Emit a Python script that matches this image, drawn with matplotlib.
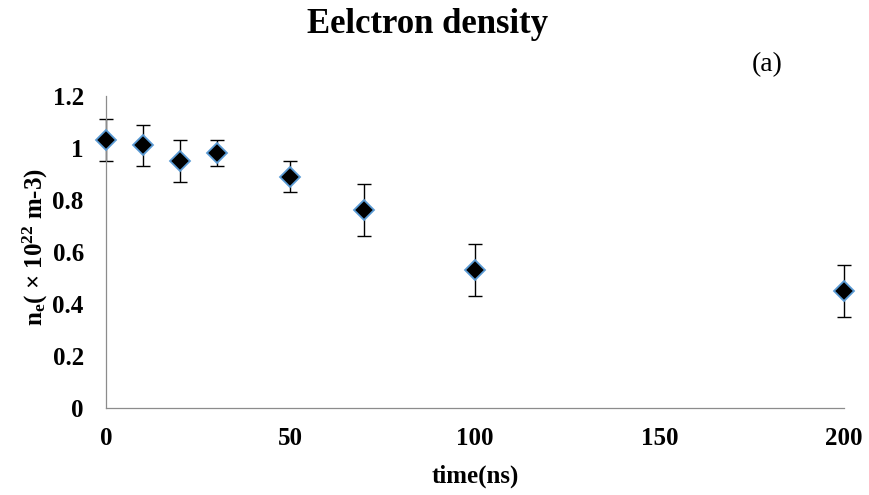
import matplotlib
matplotlib.use("Agg")
import matplotlib.pyplot as plt

# Electron density vs. time
time_ns = [0, 10, 20, 30, 50, 70, 100, 200]
density = [1.03, 1.01, 0.95, 0.98, 0.89, 0.76, 0.53, 0.45]
density_err = [0.08, 0.08, 0.08, 0.05, 0.06, 0.10, 0.10, 0.10]
x_ticks = [0, 50, 100, 150, 200]
y_ticks = [0, 0.2, 0.4, 0.6, 0.8, 1.0, 1.2]
y_tick_labels = ["0", "0.2", "0.4", "0.6", "0.8", "1", "1.2"]

plt.rcParams["font.family"] = ["Liberation Serif", "DejaVu Serif"]
plt.rcParams["mathtext.fontset"] = "custom"
plt.rcParams["mathtext.rm"] = "Liberation Serif:bold"
plt.rcParams["mathtext.bf"] = "Liberation Serif:bold"
plt.rcParams["mathtext.it"] = "Liberation Serif:bold"
plt.rcParams["mathtext.default"] = "rm"

W, H = 870, 495
fig = plt.figure(figsize=(W / 100, H / 100), dpi=100)
ax = fig.add_axes([106 / W, 1 - 408 / H, (844 - 106) / W, (408 - 96) / H])

ax.errorbar(time_ns, density, yerr=density_err, fmt="none", ecolor="black",
            elinewidth=1.0, capsize=4.7, capthick=1.0, zorder=2, clip_on=False)
ax.plot(time_ns, density, linestyle="none", marker="D", markersize=10.5,
        markerfacecolor="black", markeredgecolor="#5B9BD5",
        markeredgewidth=1.3, zorder=3, clip_on=False)

ax.set_xlim(0, 200)
ax.set_ylim(0, 1.2)
ax.set_xticks(x_ticks)
ax.set_yticks(y_ticks)
ax.set_yticklabels(y_tick_labels)

for side in ("top", "right"):
    ax.spines[side].set_visible(False)
for side in ("left", "bottom"):
    ax.spines[side].set_color("#8c8c8c")
    ax.spines[side].set_linewidth(0.9)

ax.tick_params(axis="both", length=0, labelsize=18)
ax.tick_params(axis="y", pad=16)
ax.tick_params(axis="x", pad=14)
for lbl in ax.get_xticklabels() + ax.get_yticklabels():
    lbl.set_fontweight("bold")

ax.set_xlabel("time(ns)", fontsize=18, fontweight="bold", va="center")
ax.xaxis.set_label_coords(0.5, (408 - 476) / 312)
ax.set_ylabel(r"$\mathrm{n_e}$( × 10$^{22}$ m-3)", fontsize=18,
              fontweight="bold", va="center")
ax.yaxis.set_label_coords((35 - 106) / 738, (408 - 247) / 312)

fig.text(428 / W, 1 - 33 / H, "Eelctron density", ha="center", va="baseline",
         fontsize=25, fontweight="bold")
fig.text(767 / W, 1 - 65 / H, "(a)", ha="center", va="center", fontsize=20)

fig.savefig("out.png", dpi=100)
